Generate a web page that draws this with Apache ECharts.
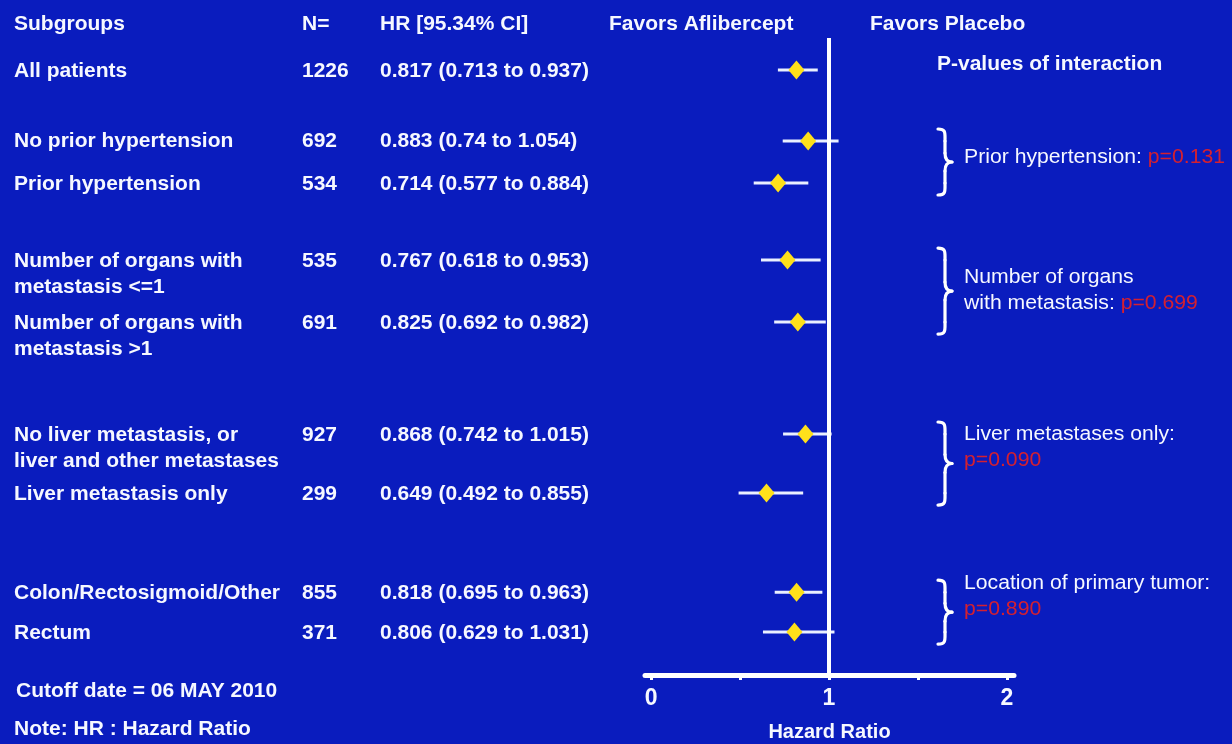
<!DOCTYPE html>
<html>
<head>
<meta charset="utf-8">
<script src="https://cdn.jsdelivr.net/npm/echarts@6/dist/echarts.min.js"></script>
<style>
  html, body { margin: 0; padding: 0; background: #0a1cbe; }
  #chart { width: 1232px; height: 744px; }
</style>
</head>
<body>
<div id="chart"></div>
<script>
// ---- data ----
const subgroups = [
  ['All patients'],
  ['No prior hypertension'],
  ['Prior hypertension'],
  ['Number of organs with', 'metastasis <=1'],
  ['Number of organs with', 'metastasis >1'],
  ['No liver metastasis, or', 'liver and other metastases'],
  ['Liver metastasis only'],
  ['Colon/Rectosigmoid/Other'],
  ['Rectum']
];
const counts = [1226, 692, 534, 535, 691, 927, 299, 855, 371];
const hazardRatio = [0.817, 0.883, 0.714, 0.767, 0.825, 0.868, 0.649, 0.818, 0.806];
const ciLow = [0.713, 0.74, 0.577, 0.618, 0.692, 0.742, 0.492, 0.695, 0.629];
const ciHigh = [0.937, 1.054, 0.884, 0.953, 0.982, 1.015, 0.855, 0.963, 1.031];

const interactionLabels = [
  ['Prior hypertension: '],
  ['Number of organs', 'with metastasis: '],
  ['Liver metastases only:', ''],
  ['Location of primary tumor:', '']
];
const interactionP = ['p=0.131', 'p=0.699', 'p=0.090', 'p=0.890'];
const interactionRows = [[1, 2], [3, 4], [5, 6], [7, 8]];

const xTickValues = [0, 0.5, 1, 1.5, 2];
const xLabelValues = [0, 1, 2];

// ---- layout ----
// vertical slot of each subgroup row on the y axis (0 at top, 30 at the axis)
const rowSlot = [1.51, 4.85, 6.83, 10.46, 13.38, 18.65, 21.43, 26.1, 27.98];
const noteTop = [157, 277, 434, 583];

const BG = '#0a1cbe';
const WHITE = '#f6f8ff';
const RED = '#d42030';
const FONT = '"Liberation Sans", Arial, Helvetica, sans-serif';
const BOLD = 'bold 20px ' + FONT;
const REG = '20px ' + FONT;
const SX = 1.05;

const chart = echarts.init(document.getElementById('chart'));

chart.setOption({
  backgroundColor: BG,
  animation: false,
  grid: { left: 645, right: 218, top: 38, bottom: 69, containLabel: false, outerBoundsMode: 'none' },
  xAxis: {
    type: 'value',
    position: 'bottom',
    min: -0.034,
    max: 2.04,
    name: 'Hazard Ratio',
    nameLocation: 'middle',
    nameGap: 47,
    nameTextStyle: { color: WHITE, fontFamily: FONT, fontWeight: 'bold', fontSize: 20 },
    axisLine: { show: true, onZero: false, lineStyle: { color: '#ffffff', width: 5 } },
    axisTick: { show: true, customValues: xTickValues, length: 5, lineStyle: { color: '#ffffff', width: 3 } },
    axisLabel: {
      customValues: xLabelValues, margin: 12, color: WHITE,
      fontFamily: FONT, fontWeight: 'bold', fontSize: 23
    },
    splitLine: { show: false }
  },
  yAxis: {
    type: 'value', min: 0, max: 30, inverse: true, show: false,
    splitLine: { show: false }
  },
  series: [
    {
      type: 'custom',
      name: 'CI',
      data: ciLow.map((lo, i) => [lo, ciHigh[i], rowSlot[i]]),
      encode: { x: [0, 1], y: 2 },
      renderItem: function (params, api) {
        const a = api.coord([api.value(0), api.value(2)]);
        const b = api.coord([api.value(1), api.value(2)]);
        return {
          type: 'line',
          shape: { x1: a[0], y1: a[1], x2: b[0], y2: b[1] },
          style: { stroke: '#eaf0ff', lineWidth: 3 }
        };
      },
      z: 2
    },
    {
      type: 'scatter',
      name: 'HR',
      data: hazardRatio.map((v, i) => [v, rowSlot[i]]),
      symbol: 'diamond',
      symbolSize: [16, 19],
      itemStyle: { color: '#ffe01a', opacity: 1 },
      z: 4,
      markLine: {
        silent: true,
        symbol: ['none', 'none'],
        label: { show: false },
        lineStyle: { color: '#ffffff', width: 4, type: 'solid', opacity: 1 },
        data: [{ xAxis: 1 }]
      }
    }
  ]
});

// ---- table text, braces and notes ----
function rowPx(i) {
  return chart.convertToPixel({ gridIndex: 0 }, [1, rowSlot[i]])[1];
}
function txt(x, y, text, font) {
  return {
    type: 'text', x: x, y: y, scaleX: SX, silent: true,
    style: {
      text: text, font: font, fill: WHITE,
      textAlign: 'left', textVerticalAlign: 'middle',
      align: 'left', verticalAlign: 'middle'
    }
  };
}
function richTxt(x, y, plain, red) {
  let s = '';
  if (plain) s += '{w|' + plain + '}';
  if (red) s += '{r|' + red + '}';
  return {
    type: 'text', x: x, y: y, scaleX: 1.06, silent: true,
    style: {
      text: s, font: REG, fill: WHITE,
      textAlign: 'left', textVerticalAlign: 'middle',
      align: 'left', verticalAlign: 'middle',
      rich: {
        w: { fill: WHITE, font: REG },
        r: { fill: RED, font: REG }
      }
    }
  };
}
// right curly brace built from lines and bezier curves
function braceParts(x0, top, bottom) {
  const mid = (top + bottom) / 2;
  const s = x0 + 7, tip = x0 + 14;
  const st = { stroke: '#ffffff', lineWidth: 3.2, fill: null, lineCap: 'round' };
  const bz = (x1, y1, c1x, c1y, c2x, c2y, x2, y2) => ({
    type: 'bezierCurve', silent: true,
    shape: { x1: x1, y1: y1, cpx1: c1x, cpy1: c1y, cpx2: c2x, cpy2: c2y, x2: x2, y2: y2 },
    style: st
  });
  const ln = (x1, y1, x2, y2) => ({
    type: 'line', silent: true,
    shape: { x1: x1, y1: y1, x2: x2, y2: y2 },
    style: st
  });
  return [
    bz(x0, top, s + 1, top, s, top + 4, s, top + 12),
    ln(s, top + 12, s, mid - 9),
    bz(s, mid - 9, s, mid - 2, x0 + 10, mid, tip, mid),
    bz(tip, mid, x0 + 10, mid, s, mid + 2, s, mid + 9),
    ln(s, mid + 9, s, bottom - 12),
    bz(s, bottom - 12, s, bottom - 4, s + 1, bottom, x0, bottom)
  ];
}

const els = [];
// column headers
els.push(txt(14, 24, 'Subgroups', BOLD));
els.push(txt(302, 24, 'N=', BOLD));
els.push(txt(380, 24, 'HR [95.34% CI]', BOLD));
els.push(txt(609, 24, 'Favors Aflibercept', BOLD));
els.push(txt(870, 24, 'Favors Placebo', BOLD));
els.push(txt(937, 64, 'P-values of interaction', BOLD));

// subgroup rows
subgroups.forEach(function (lines, i) {
  const y = rowPx(i) + 1;
  lines.forEach(function (line, k) {
    els.push(txt(14, y + k * 26, line, BOLD));
  });
  els.push(txt(302, y, String(counts[i]), BOLD));
  els.push(txt(380, y, hazardRatio[i] + ' (' + ciLow[i] + ' to ' + ciHigh[i] + ')', BOLD));
});

// interaction braces and p-values
interactionRows.forEach(function (rows, g) {
  const top = rowPx(rows[0]) - 12;
  const bottom = rowPx(rows[1]) + 12;
  braceParts(938, top, bottom).forEach(function (p) { els.push(p); });
  const lines = interactionLabels[g];
  const y0 = noteTop[g];
  if (lines.length === 1) {
    els.push(richTxt(964, y0, lines[0], interactionP[g]));
  } else {
    els.push(richTxt(964, y0, lines[0], ''));
    els.push(richTxt(964, y0 + 26, lines[1], interactionP[g]));
  }
});

// footnotes
els.push(txt(16, 691, 'Cutoff date = 06 MAY 2010', BOLD));
els.push(txt(14, 729, 'Note: HR : Hazard Ratio', BOLD));

chart.setOption({ graphic: { elements: els } });
</script>
</body>
</html>
